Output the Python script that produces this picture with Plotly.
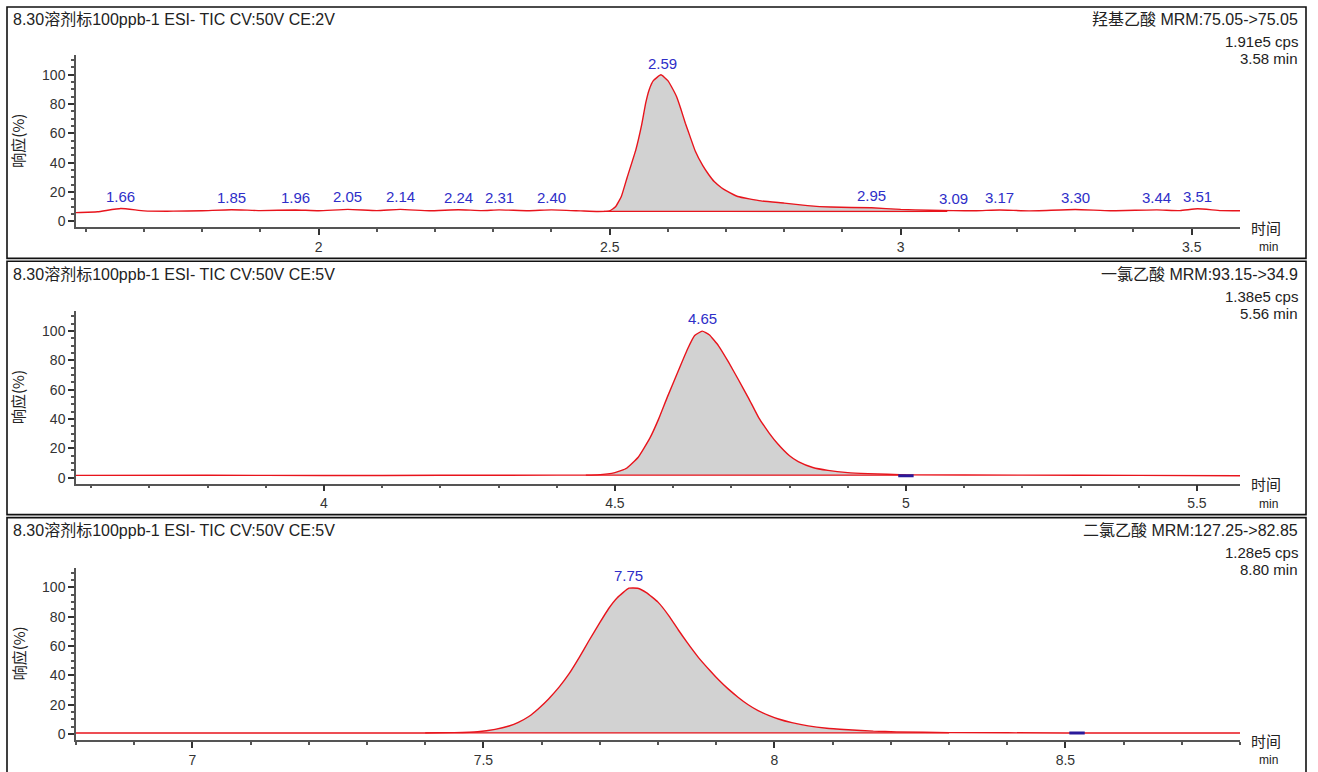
import numpy as np
import plotly.graph_objects as go

# ---------------- data ----------------
titles = ["8.30溶剂标100ppb-1 ESI- TIC CV:50V CE:2V",
          "8.30溶剂标100ppb-1 ESI- TIC CV:50V CE:5V",
          "8.30溶剂标100ppb-1 ESI- TIC CV:50V CE:5V"]
compounds = ["羟基乙酸 MRM:75.05->75.05", "一氯乙酸 MRM:93.15->34.9", "二氯乙酸 MRM:127.25->82.85"]
intensities = ["1.91e5 cps", "1.38e5 cps", "1.28e5 cps"]
end_times = ["3.58 min", "5.56 min", "8.80 min"]

t1 = [1.583, 1.62, 1.66, 1.70, 1.75, 1.80, 1.85, 1.90, 1.96, 2.00, 2.05, 2.10, 2.14, 2.19, 2.24,
      2.28, 2.31, 2.36, 2.40, 2.45, 2.48, 2.50, 2.51, 2.52, 2.53, 2.545, 2.555, 2.562, 2.568, 2.575,
      2.588, 2.60, 2.606, 2.615, 2.622, 2.63, 2.638, 2.647, 2.66, 2.67, 2.68, 2.692,
      2.70, 2.72, 2.76, 2.80, 2.84, 2.88, 2.95, 3.00, 3.05, 3.09, 3.13, 3.17, 3.22, 3.30, 3.36,
      3.44, 3.48, 3.51, 3.55, 3.583]
v1 = [6.0, 6.6, 8.8, 7.2, 7.0, 7.3, 8.0, 7.4, 7.8, 7.3, 8.2, 7.4, 8.2, 7.3, 8.0,
      7.4, 7.9, 7.3, 7.9, 7.2, 6.8, 7.2, 10, 17, 30, 49, 66, 81, 90, 96,
      100, 96, 92, 85, 77, 67, 58, 48, 38, 32, 27, 23,
      21, 17, 14, 12.5, 10.8, 9.8, 9.3, 8.2, 7.6, 7.4, 7.3, 7.8, 7.2, 8.1, 7.3,
      7.9, 7.4, 8.6, 7.4, 7.3]

t2 = [3.574, 3.8, 4.0, 4.2, 4.4, 4.47, 4.50, 4.52, 4.54, 4.56, 4.575, 4.59, 4.61, 4.625, 4.637,
      4.65, 4.662, 4.678, 4.695, 4.712, 4.73, 4.747, 4.765, 4.78, 4.80, 4.815, 4.84, 4.866,
      4.90, 4.935, 5.0, 5.2, 5.4, 5.574]
v2 = [1.6, 1.7, 1.5, 1.7, 1.8, 2.0, 3.5, 6.5, 14, 27, 40, 55, 74, 88, 97,
      100, 97.5, 90, 79, 67, 54, 41, 30.5, 23, 15, 11, 7, 5,
      3.5, 2.8, 2.0, 1.8, 1.6, 1.4]

t3 = [6.80, 7.0, 7.2, 7.4, 7.45, 7.49, 7.52, 7.544, 7.56, 7.578, 7.595, 7.612, 7.63, 7.647, 7.665,
      7.681, 7.70, 7.715, 7.73, 7.75, 7.765, 7.78, 7.80, 7.82, 7.835, 7.85, 7.87, 7.89,
      7.904, 7.92, 7.938, 7.955, 7.972, 7.99, 8.007, 8.03, 8.058, 8.09, 8.127, 8.17, 8.21, 8.3,
      8.5, 8.8]
v3 = [0.8, 0.8, 0.8, 0.8, 1.0, 1.6, 3.2, 5.5, 8, 12, 17.5, 24, 32, 41, 52.5,
      63.5, 76, 85.5, 93, 99.5, 99.5, 96.5, 90, 80, 71, 62.5, 52, 43,
      37, 31, 25, 20, 16, 12.8, 10.3, 7.8, 5.6, 4, 3, 2, 1.5, 1.0,
      0.8, 0.7]

label_t1 = [1.66, 1.85, 1.96, 2.05, 2.14, 2.24, 2.31, 2.40, 2.59, 2.95, 3.09, 3.17, 3.30, 3.44, 3.51]
label_t2 = [4.65]
label_t3 = [7.75]

# integration windows (start, end, baseline level)
integ = [(2.49, 3.08, 6.9), (4.45, 5.0, 1.8), (7.40, 8.30, 0.9)]
end_marks = [None, (5.0, 1.3), (8.52, 0.8)]

x_ranges = [[1.583, 3.583], [3.574, 5.574], [6.80, 8.80]]
x_ticks = [[2, 2.5, 3, 3.5], [4, 4.5, 5, 5.5], [7, 7.5, 8, 8.5]]
y_ticks = [0, 20, 40, 60, 80, 100]

# ---------------- layout helpers ----------------
W, H = 1318, 772
def py(p):
    return 1 - p / H
def px(p):
    return p / W

FONT = "Liberation Sans, Arial, Noto Sans CJK SC, sans-serif"
CJK = "Noto Sans CJK SC, sans-serif"
RED = "#e8141c"
BLUE = "#2e2ec8"

fig = go.Figure()
series = [(t1, v1, label_t1), (t2, v2, label_t2), (t3, v3, label_t3)]
offsets = [0, 257, 514]

annotations = []
shapes = []

for i, (t, v, labs) in enumerate(series):
    xa = "x" if i == 0 else f"x{i+1}"
    ya = "y" if i == 0 else f"y{i+1}"
    s, e, b = integ[i]
    ta = np.array(t, dtype=float)
    va = np.array(v, dtype=float)
    mask = (ta > s) & (ta < e)
    fx = [s] + list(ta[mask]) + [e, e, s]
    fy = [float(np.interp(s, ta, va))] + list(va[mask]) + [float(np.interp(e, ta, va)), b, b]
    fig.add_trace(go.Scatter(x=fx, y=fy, fill="toself", fillcolor="#d2d2d2",
                             line=dict(width=0, shape="spline", smoothing=0.4), mode="lines",
                             xaxis=xa, yaxis=ya, hoverinfo="skip", showlegend=False))
    # integration baseline
    fig.add_trace(go.Scatter(x=[s, e], y=[b, b], mode="lines",
                             line=dict(color=RED, width=1.3), xaxis=xa, yaxis=ya,
                             showlegend=False))
    # chromatogram
    fig.add_trace(go.Scatter(x=t, y=v, mode="lines",
                             line=dict(color=RED, width=1.4, shape="spline", smoothing=0.4),
                             xaxis=xa, yaxis=ya, showlegend=False))
    if end_marks[i] is not None:
        mx, my = end_marks[i]
        fig.add_trace(go.Scatter(x=[mx], y=[my], mode="markers",
                                 marker=dict(symbol="line-ew-open", size=11, color="#2a1a9a",
                                             line=dict(color="#2a1a9a", width=3)),
                                 xaxis=xa, yaxis=ya, showlegend=False))
    for lt in labs:
        annotations.append(dict(x=lt, y=float(np.interp(lt, ta, va)), xref=xa, yref=ya,
                                text=f"{lt:.2f}", showarrow=False, yanchor="bottom", yshift=2,
                                font=dict(family=FONT, size=15, color=BLUE)))

    o = offsets[i]
    dom_y = [py(228 + o), py(55 + o)]
    xkey = "xaxis" if i == 0 else f"xaxis{i+1}"
    ykey = "yaxis" if i == 0 else f"yaxis{i+1}"
    fig.layout[xkey] = dict(domain=[px(76), px(1240)], range=x_ranges[i], anchor=ya,
                            tickvals=x_ticks[i], ticktext=[f"{x:g}" for x in x_ticks[i]],
                            showline=True, linecolor="#555", linewidth=1.5,
                            ticks="outside", ticklen=6, tickcolor="#333", tickwidth=1.5,
                            minor=dict(dtick=0.1, tick0=0, ticks="outside", ticklen=3, tickcolor="#555"),
                            showgrid=False, zeroline=False,
                            tickfont=dict(family=FONT, size=14, color="#333"))
    fig.layout[ykey] = dict(domain=dom_y, range=[-4.08, 113.6], anchor=xa,
                            tickvals=y_ticks, showline=True, linecolor="#555", linewidth=1.5,
                            ticks="outside", ticklen=6, tickcolor="#333", tickwidth=1.5,
                            minor=dict(dtick=5, tick0=0, ticks="outside", ticklen=3, tickcolor="#555"),
                            showgrid=False, zeroline=False,
                            tickfont=dict(family=FONT, size=14, color="#333"))

    # panel frame
    top = 7 if i == 0 else (262 if i == 1 else 519)
    bot = 259 if i == 0 else (516 if i == 1 else 790)
    shapes.append(dict(type="rect", xref="paper", yref="paper",
                       x0=px(7), x1=px(1306), y0=py(bot), y1=py(top),
                       line=dict(color="#111", width=1.6)))
    # texts
    annotations.append(dict(x=px(11), y=py(top + 13), xref="paper", yref="paper", xanchor="left",
                            yanchor="middle", text=titles[i], showarrow=False,
                            font=dict(family=FONT, size=16, color="#222")))
    annotations.append(dict(x=px(1300), y=py(top + 13), xref="paper", yref="paper", xanchor="right",
                            yanchor="middle", text=compounds[i], showarrow=False,
                            font=dict(family=FONT, size=16, color="#222")))
    annotations.append(dict(x=px(1300), y=py(top + 35), xref="paper", yref="paper", xanchor="right",
                            yanchor="middle", text=intensities[i], showarrow=False,
                            font=dict(family=FONT, size=15, color="#222")))
    annotations.append(dict(x=px(1300), y=py(top + 52), xref="paper", yref="paper", xanchor="right",
                            yanchor="middle", text=end_times[i], showarrow=False,
                            font=dict(family=FONT, size=15, color="#222")))
    annotations.append(dict(x=px(18), y=py(141 + o), xref="paper", yref="paper", xanchor="center",
                            yanchor="middle", text="响应(%)", textangle=-90, showarrow=False,
                            font=dict(family=CJK, size=15, color="#222")))
    annotations.append(dict(x=px(1266), y=py(228 + o), xref="paper", yref="paper", xanchor="center",
                            yanchor="middle", text="时间", showarrow=False,
                            font=dict(family=CJK, size=15, color="#222")))
    annotations.append(dict(x=px(1268), y=py(248 + o), xref="paper", yref="paper", xanchor="center",
                            yanchor="middle", text="min", showarrow=False,
                            font=dict(family=FONT, size=12, color="#222")))

fig.update_layout(width=W, height=H, margin=dict(l=0, r=0, t=0, b=0),
                  paper_bgcolor="white", plot_bgcolor="white",
                  annotations=annotations, shapes=shapes, showlegend=False)

fig.write_html("out.html")
